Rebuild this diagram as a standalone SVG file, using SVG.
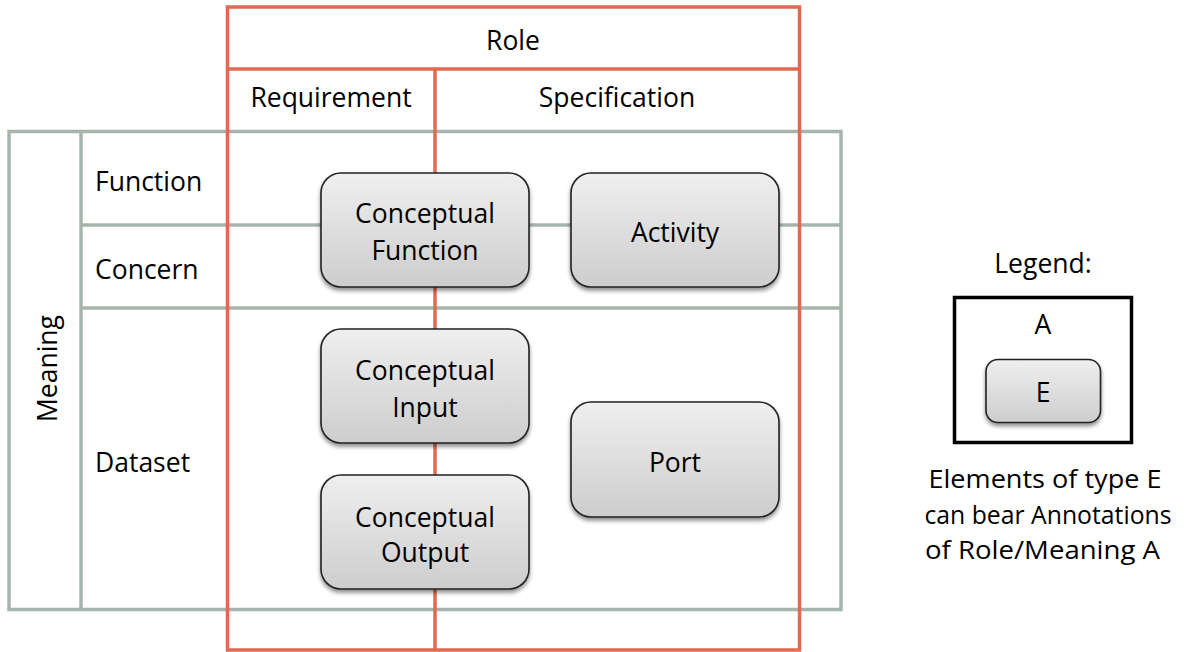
<svg xmlns="http://www.w3.org/2000/svg" width="1186" height="652" viewBox="0 0 1186 652">
<style>
text{font-family:"Open Sans","Liberation Sans",sans-serif;font-size:26.5px;fill:#000}
.c{text-anchor:middle}
.g{stroke:#a6b5ab;stroke-width:3.5;fill:none}
.r{stroke:#e06a50;stroke-width:3.5;fill:none}
.n{fill:url(#ng);stroke:#222;stroke-width:1.6;filter:url(#sh)}
.lg{font-size:25px}
</style>
<defs>
<linearGradient id="ng" x1="0" y1="0" x2="0" y2="1">
<stop offset="0" stop-color="#efefef"/>
<stop offset="1" stop-color="#cdcdcd"/>
</linearGradient>
<filter id="sh" x="-10%" y="-10%" width="120%" height="130%">
<feGaussianBlur in="SourceAlpha" stdDeviation="2"/>
<feOffset dx="0" dy="3" result="b"/>
<feComponentTransfer><feFuncA type="linear" slope="0.45"/></feComponentTransfer>
<feMerge><feMergeNode/><feMergeNode in="SourceGraphic"/></feMerge>
</filter>
</defs>
<g id="connectors">
<g id="meaning-grid">
<rect class="g" x="9" y="131.5" width="832" height="478"/>
<line class="g" x1="81" y1="131.5" x2="81" y2="609.5"/>
<line class="g" x1="81" y1="225" x2="841" y2="225"/>
<line class="g" x1="81" y1="308" x2="841" y2="308"/>
</g>
<g id="role-grid">
<rect class="r" x="227.5" y="7" width="572" height="643"/>
<line class="r" x1="227.5" y1="69" x2="799.5" y2="69"/>
<line class="r" x1="435" y1="69" x2="435" y2="650"/>
</g>
</g>
<g id="headers">
<text class="c" x="513" y="50">Role</text>
<text class="c" x="331" y="107">Requirement</text>
<text class="c" x="617" y="107">Specification</text>
<text x="95" y="191">Function</text>
<text x="95" y="279">Concern</text>
<text x="95" y="472">Dataset</text>
<text class="c" transform="translate(57,368.5) rotate(-90)">Meaning</text>
</g>
<g id="conceptual-function">
<rect class="n" x="321" y="173" width="208" height="114" rx="20"/>
<text class="c" x="425" y="223">Conceptual</text>
<text class="c" x="425" y="260">Function</text>
</g>
<g id="activity">
<rect class="n" x="571" y="173" width="208" height="114" rx="20"/>
<text class="c" x="675" y="242">Activity</text>
</g>
<g id="conceptual-input">
<rect class="n" x="321" y="329" width="208" height="114" rx="20"/>
<text class="c" x="425" y="380">Conceptual</text>
<text class="c" x="425" y="417">Input</text>
</g>
<g id="conceptual-output">
<rect class="n" x="321" y="475" width="208" height="114" rx="20"/>
<text class="c" x="425" y="526.5">Conceptual</text>
<text class="c" x="425" y="562">Output</text>
</g>
<g id="port">
<rect class="n" x="571" y="402" width="208" height="115" rx="20"/>
<text class="c" x="675" y="472">Port</text>
</g>
<g id="legend">
<text class="c" x="1043" y="273">Legend:</text>
<rect x="954.5" y="297.5" width="177" height="145" fill="none" stroke="#000" stroke-width="3.5"/>
<text class="c" x="1043" y="334">A</text>
<rect class="n" x="986" y="359.5" width="114.5" height="63" rx="12"/>
<text class="c" x="1043" y="402">E</text>
<text class="c lg" x="1045" y="488" textLength="233" lengthAdjust="spacingAndGlyphs">Elements of type E</text>
<text class="c lg" x="1048" y="524" textLength="247" lengthAdjust="spacingAndGlyphs">can bear Annotations</text>
<text class="c lg" x="1042.5" y="559" textLength="235" lengthAdjust="spacingAndGlyphs">of Role/Meaning A</text>
</g>
</svg>
